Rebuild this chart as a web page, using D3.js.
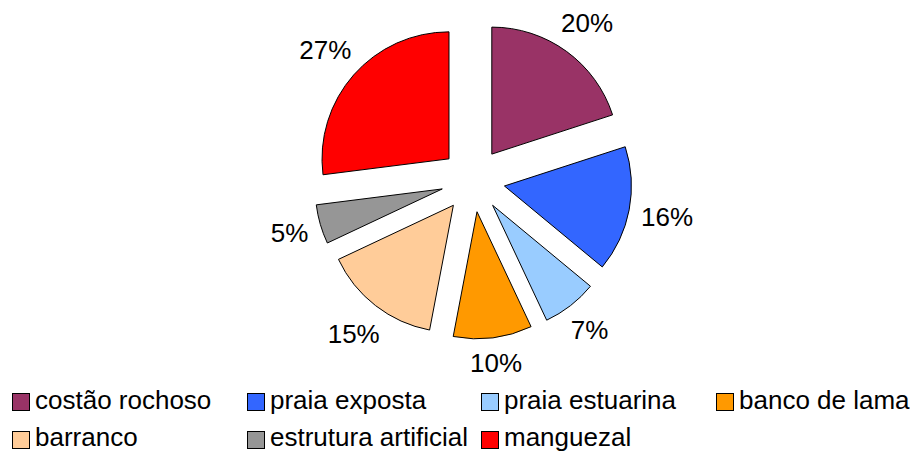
<!DOCTYPE html>
<html>
<head>
<meta charset="utf-8">
<script src="https://cdn.jsdelivr.net/npm/d3@7"></script>
<style>
  html, body { margin: 0; padding: 0; background: #fff; }
  svg { display: block; }
  text { font-family: "Liberation Sans", Arial, sans-serif; fill: #000; }
</style>
</head>
<body>
<svg id="chart" width="910" height="452"></svg>
<script>
// Shares of each habitat type (%)
const categories = ["costão rochoso", "praia exposta", "praia estuarina", "banco de lama",
                    "barranco", "estrutura artificial", "manguezal"];
const values = [20, 16, 7, 10, 15, 5, 27];
const colors = ["#993366", "#3366FF", "#99CCFF", "#FF9900", "#FFCC99", "#969696", "#FF0000"];

const W = 910, H = 452;
const cx = 473, cy = 180;      // pie centre
const radius = 127;            // slice radius
const explode = 32;            // outward offset of every slice
const labelGap = 170;          // distance from centre to the inner edge of a label
const fontSize = 26;

const svg = d3.select("#chart");

const pie = d3.pie().sort(null).value(d => d)(values);
const arc = d3.arc().innerRadius(0).outerRadius(radius);

const g = svg.append("g").attr("transform", `translate(${cx},${cy})`);

// Exploded slices
g.selectAll("path.slice")
  .data(pie)
  .join("path")
  .attr("class", "slice")
  .attr("d", arc)
  .attr("fill", (d, i) => colors[i])
  .attr("stroke", "#000")
  .attr("stroke-width", 1)
  .attr("stroke-linejoin", "round")
  .attr("transform", d => {
    const a = (d.startAngle + d.endAngle) / 2;
    return `translate(${explode * Math.sin(a)},${-explode * Math.cos(a)})`;
  });

// Percentage labels outside each slice
const labels = g.selectAll("text.pct")
  .data(pie)
  .join("text")
  .attr("class", "pct")
  .attr("text-anchor", "middle")
  .attr("dy", "0.35em")
  .style("font-size", fontSize + "px")
  .text(d => d.data + "%");

labels.each(function(d) {
  const a = (d.startAngle + d.endAngle) / 2;
  const s = Math.sin(a), c = -Math.cos(a);
  const hw = this.getComputedTextLength() / 2;
  const hh = 11;
  const dist = labelGap + hw * Math.abs(s) + hh * Math.abs(c);
  d3.select(this).attr("x", dist * s).attr("y", dist * c);
});

// Legend: two rows, four columns
const colStep = 234.7;
const legendRows = [393, 431];
const box = 17;

const leg = svg.append("g").selectAll("g")
  .data(categories)
  .join("g")
  .attr("transform", (d, i) =>
    `translate(${Math.round(12 + (i % 4) * colStep)},${legendRows[Math.floor(i / 4)]})`);

leg.append("rect")
  .attr("x", 0.5).attr("y", 0.5)
  .attr("width", box).attr("height", box)
  .attr("fill", (d, i) => colors[i])
  .attr("stroke", "#000")
  .attr("stroke-width", 1);

leg.append("text")
  .attr("x", 23)
  .attr("y", (d, i) => i < 4 ? 16 : 15)
  .style("font-size", fontSize + "px")
  .text(d => d);
</script>
</body>
</html>
